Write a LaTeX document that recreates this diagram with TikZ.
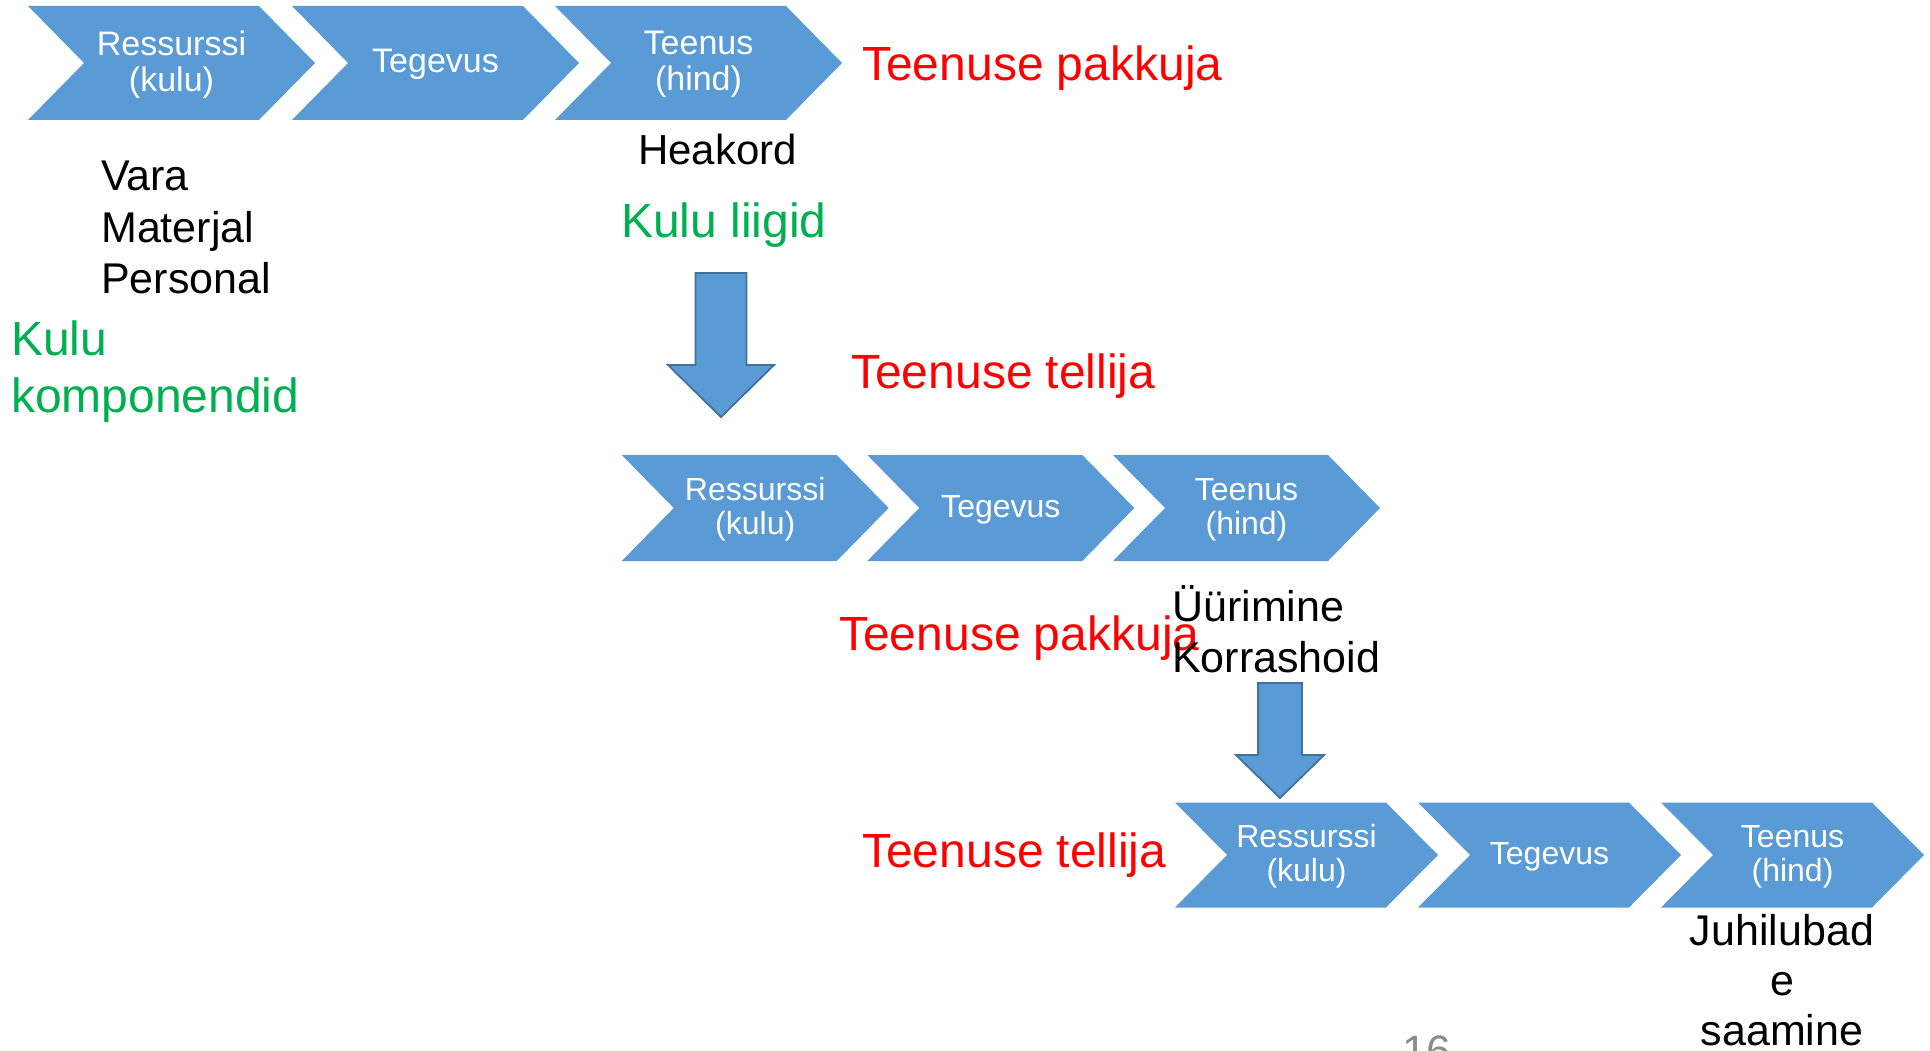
\documentclass[tikz,border=0pt]{standalone}
\usepackage{fontspec}
\setmainfont{Liberation Sans}

\definecolor{chevblue}{HTML}{5B9BD5}
\definecolor{arrowline}{HTML}{41719C}
\definecolor{kred}{HTML}{FF0000}
\definecolor{kgreen}{HTML}{00B050}
\definecolor{pagegray}{HTML}{8C8C8C}

\tikzset{
  chevfill/.style={fill=chevblue, draw=none},
  chevtext/.style={text=white, align=center, inner sep=0pt},
  blockarrow/.style={fill=chevblue, draw=arrowline, line width=1.8pt, line join=miter},
  lbl/.style={anchor=base west, inner sep=0pt},
  redlbl/.style={lbl, text=kred, font=\fontsize{48}{56}\selectfont},
  greenlbl/.style={lbl, text=kgreen, font=\fontsize{48}{56}\selectfont},
  blacklbl/.style={lbl, text=black, font=\fontsize{43}{50}\selectfont},
}

% chevron: name, left, top, width, height, point depth, font size, text
\newcommand\chevronstep[8]{%
  \fill[chevfill] (#2,#3) -- ({#2+#4-#6},#3) -- ({#2+#4},{#3+#5/2})
    -- ({#2+#4-#6},{#3+#5}) -- (#2,{#3+#5}) -- ({#2+#6},{#3+#5/2}) -- cycle;
  \node[chevtext, font=\fontsize{#7}{\the\numexpr#7+2\relax}\selectfont]
    (#1) at ({#2+#4/2},{#3+#5/2+1.5}) {#8};%
}

\begin{document}
\begin{tikzpicture}[x=1pt, y=-1pt]
\useasboundingbox (0,0) rectangle (1930,1051);
\clip (0,0) rectangle (1930,1051);

% first chain
\chevronstep{aR}{28}{6}{287}{114}{56}{34}{Ressurssi\\(kulu)}
\chevronstep{aT}{292}{6}{287}{114}{56}{34}{Tegevus}
\chevronstep{aH}{555}{6}{287}{114}{56}{34}{Teenus\\(hind)}

% second chain
\chevronstep{bR}{621.7}{455}{267}{106}{52}{32}{Ressurssi\\(kulu)}
\chevronstep{bT}{867.3}{455}{267}{106}{52}{32}{Tegevus}
\chevronstep{bH}{1113}{455}{267}{106}{52}{32}{Teenus\\(hind)}

% third chain
\chevronstep{cR}{1175}{802.5}{263}{105}{52}{32}{Ressurssi\\(kulu)}
\chevronstep{cT}{1418}{802.5}{263}{105}{52}{32}{Tegevus}
\chevronstep{cH}{1661}{802.5}{263}{105}{52}{32}{Teenus\\(hind)}

% downward block arrows
\draw[blockarrow] (695.5,273) -- (746.5,273) -- (746.5,365) -- (774,365)
  -- (721,417) -- (668,365) -- (695.5,365) -- cycle;
\draw[blockarrow] (1258,683) -- (1302,683) -- (1302,755) -- (1324,755)
  -- (1280,798) -- (1236,755) -- (1258,755) -- cycle;

% labels, first level
\node[redlbl] (prov1) at (862,81) {Teenuse pakkuja};
\node[blacklbl] (vara) at (101,191) {Vara};
\node[blacklbl] (mat) at (101,242) {Materjal};
\node[blacklbl] (pers) at (101,293) {Personal};
\node[greenlbl] (kulu) at (11,355) {Kulu};
\node[greenlbl] (komp) at (11,412) {komponendid};
\node[blacklbl, font=\fontsize{42}{49}\selectfont] (heak) at (638,165) {Heakord};
\node[greenlbl] (liik) at (621,237) {Kulu liigid};

% labels, second level
\node[redlbl] (ord1) at (851,388) {Teenuse tellija};
\node[redlbl] (prov2) at (839,650) {Teenuse pakkuja};
\node[blacklbl] (uur) at (1172,621) {Üürimine};
\node[blacklbl] (korr) at (1172,672) {Korrashoid};

% labels, third level
\node[redlbl] (ord2) at (862,867) {Teenuse tellija};
\node[blacklbl, anchor=base] (juh1) at (1782,945) {Juhilubad};
\node[blacklbl, anchor=base] (juh2) at (1782,995) {e};
\node[blacklbl, anchor=base] (juh3) at (1782,1045) {saamine};

% page number
\node[lbl, text=pagegray, font=\fontsize{44}{52}\selectfont] (pnum) at (1402,1066) {16};
\end{tikzpicture}
\end{document}
